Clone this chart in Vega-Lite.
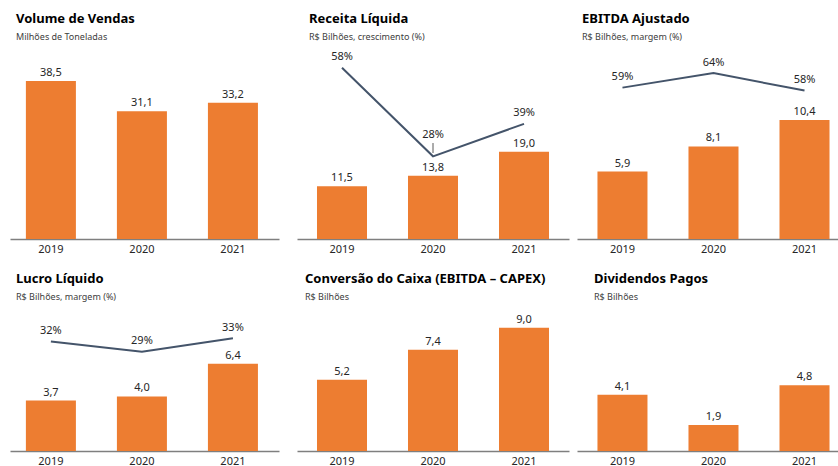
{
  "$schema": "https://vega.github.io/schema/vega-lite/v6.json",
  "padding": {"left": 10, "top": 13, "right": 0, "bottom": 0},
  "background": "white",
  "spacing": 260,
  "bounds": "flush",
  "vconcat": [
    {
      "spacing": 18,
      "bounds": "flush",
      "hconcat": [
        {
          "width": 269, "height": 194,
          "title": {"text": "Volume de Vendas", "subtitle": "Milhões de Toneladas", "dx": 6},
          "data": {"values": [
            {"ano": "2019", "valor": 38.5},
            {"ano": "2020", "valor": 31.1},
            {"ano": "2021", "valor": 33.2}
          ]},
          "encoding": {"x": {"field": "ano", "type": "nominal", "title": null, "scale": {"paddingInner": 0.4505, "paddingOuter": 0.203, "align": 0.43}}},
          "layer": [
            {"mark": {"type": "bar", "color": "#ED7D31"}, "encoding": {"y": {"field": "valor", "type": "quantitative", "scale": {"domain": [0, 47.26], "nice": false}, "axis": null}}},
            {"mark": {"type": "text", "dy": -8, "fontSize": 11, "color": "#262626"}, "encoding": {"y": {"field": "valor", "type": "quantitative", "scale": {"domain": [0, 47.26], "nice": false}, "axis": null}, "text": {"field": "valor", "type": "quantitative", "format": ".1f"}}}
          ]
        },
        {
          "spacing": 8,
          "bounds": "flush",
          "hconcat": [
            {
              "width": 272, "height": 194,
              "title": {"text": "Receita Líquida", "subtitle": "R$ Bilhões, crescimento (%)", "dx": 12},
              "data": {"values": [
                {"ano": "2019", "valor": 11.5, "pct": 0.58},
                {"ano": "2020", "valor": 13.8, "pct": 0.28},
                {"ano": "2021", "valor": 19.0, "pct": 0.39}
              ]},
              "encoding": {"x": {"field": "ano", "type": "nominal", "title": null, "scale": {"paddingInner": 0.4505, "paddingOuter": 0.2197, "align": 0.5}}},
              "layer": [
                {"mark": {"type": "bar", "color": "#ED7D31"}, "encoding": {"y": {"field": "valor", "type": "quantitative", "scale": {"domain": [0, 42.27], "nice": false}, "axis": null}}},
                {"mark": {"type": "text", "dy": -8, "fontSize": 11, "color": "#262626"}, "encoding": {"y": {"field": "valor", "type": "quantitative", "scale": {"domain": [0, 42.27], "nice": false}, "axis": null}, "text": {"field": "valor", "type": "quantitative", "format": ".1f"}}},
                {"mark": {"type": "line", "color": "#44546A", "strokeWidth": 2}, "encoding": {"y": {"field": "pct", "type": "quantitative", "scale": {"domain": [0, 0.657], "nice": false}, "axis": null}}},
                {"transform": [{"filter": "datum.ano != '2020'"}], "mark": {"type": "text", "dy": -10.5, "fontSize": 11, "color": "#262626"}, "encoding": {"y": {"field": "pct", "type": "quantitative", "scale": {"domain": [0, 0.657], "nice": false}, "axis": null}, "text": {"field": "pct", "type": "quantitative", "format": ".0%"}}},
                {"transform": [{"filter": "datum.ano == '2020'"}], "mark": {"type": "text", "dy": -21, "fontSize": 11, "color": "#262626"}, "encoding": {"y": {"field": "pct", "type": "quantitative", "scale": {"domain": [0, 0.657], "nice": false}, "axis": null}, "text": {"field": "pct", "type": "quantitative", "format": ".0%"}}},
                {"transform": [{"filter": "datum.ano == '2020'"}], "mark": {"type": "rule", "yOffset": -3.3, "y2Offset": -13.3, "color": "#595959", "strokeWidth": 1}, "encoding": {"y": {"field": "pct", "type": "quantitative", "scale": {"domain": [0, 0.657], "nice": false}, "axis": null}, "y2": {"field": "pct"}}}
              ],
              "resolve": {"scale": {"y": "independent"}}
            },
            {
              "width": 261, "height": 194,
              "title": {"text": "EBITDA Ajustado", "subtitle": "R$ Bilhões, margem (%)", "dx": 5},
              "data": {"values": [
                {"ano": "2019", "valor": 5.9, "pct": 0.59},
                {"ano": "2020", "valor": 8.1, "pct": 0.64},
                {"ano": "2021", "valor": 10.4, "pct": 0.58}
              ]},
              "encoding": {"x": {"field": "ano", "type": "nominal", "title": null, "scale": {"paddingInner": 0.4505, "paddingOuter": 0.159, "align": 0.707}}},
              "layer": [
                {"mark": {"type": "bar", "color": "#ED7D31"}, "encoding": {"y": {"field": "valor", "type": "quantitative", "scale": {"domain": [0, 16.97], "nice": false}, "axis": null}}},
                {"mark": {"type": "text", "dy": -8, "fontSize": 11, "color": "#262626"}, "encoding": {"y": {"field": "valor", "type": "quantitative", "scale": {"domain": [0, 16.97], "nice": false}, "axis": null}, "text": {"field": "valor", "type": "quantitative", "format": ".1f"}}},
                {"mark": {"type": "line", "color": "#44546A", "strokeWidth": 2}, "encoding": {"y": {"field": "pct", "type": "quantitative", "scale": {"domain": [0.068, 0.737], "nice": false, "zero": false}, "axis": null}}},
                {"mark": {"type": "text", "dy": -10.5, "fontSize": 11, "color": "#262626"}, "encoding": {"y": {"field": "pct", "type": "quantitative", "scale": {"domain": [0.068, 0.737], "nice": false, "zero": false}, "axis": null}, "text": {"field": "pct", "type": "quantitative", "format": ".0%"}}}
              ],
              "resolve": {"scale": {"y": "independent"}}
            }
          ]
        }
      ]
    },
    {
      "spacing": 18,
      "bounds": "flush",
      "hconcat": [
        {
          "width": 269, "height": 146,
          "title": {"text": "Lucro Líquido", "subtitle": "R$ Bilhões, margem (%)", "dx": 6},
          "data": {"values": [
            {"ano": "2019", "valor": 3.7, "pct": 0.32},
            {"ano": "2020", "valor": 4.0, "pct": 0.29},
            {"ano": "2021", "valor": 6.4, "pct": 0.33}
          ]},
          "encoding": {"x": {"field": "ano", "type": "nominal", "title": null, "scale": {"paddingInner": 0.4505, "paddingOuter": 0.203, "align": 0.43}}},
          "layer": [
            {"mark": {"type": "bar", "color": "#ED7D31"}, "encoding": {"y": {"field": "valor", "type": "quantitative", "scale": {"domain": [0, 10.7], "nice": false}, "axis": null}}},
            {"mark": {"type": "text", "dy": -8, "fontSize": 11, "color": "#262626"}, "encoding": {"y": {"field": "valor", "type": "quantitative", "scale": {"domain": [0, 10.7], "nice": false}, "axis": null}, "text": {"field": "valor", "type": "quantitative", "format": ".1f"}}},
            {"mark": {"type": "line", "color": "#44546A", "strokeWidth": 2}, "encoding": {"y": {"field": "pct", "type": "quantitative", "scale": {"domain": [0, 0.427], "nice": false}, "axis": null}}},
            {"mark": {"type": "text", "dy": -10.5, "fontSize": 11, "color": "#262626"}, "encoding": {"y": {"field": "pct", "type": "quantitative", "scale": {"domain": [0, 0.427], "nice": false}, "axis": null}, "text": {"field": "pct", "type": "quantitative", "format": ".0%"}}}
          ],
          "resolve": {"scale": {"y": "independent"}}
        },
        {
          "spacing": 8,
          "bounds": "flush",
          "hconcat": [
            {
              "width": 272, "height": 146,
              "title": {"text": "Conversão do Caixa (EBITDA – CAPEX)", "subtitle": "R$ Bilhões", "dx": 8},
              "data": {"values": [
                {"ano": "2019", "valor": 5.2},
                {"ano": "2020", "valor": 7.4},
                {"ano": "2021", "valor": 9.0}
              ]},
              "encoding": {"x": {"field": "ano", "type": "nominal", "title": null, "scale": {"paddingInner": 0.4505, "paddingOuter": 0.2197, "align": 0.5}}},
              "layer": [
                {"mark": {"type": "bar", "color": "#ED7D31"}, "encoding": {"y": {"field": "valor", "type": "quantitative", "scale": {"domain": [0, 10.67], "nice": false}, "axis": null}}},
                {"mark": {"type": "text", "dy": -8, "fontSize": 11, "color": "#262626"}, "encoding": {"y": {"field": "valor", "type": "quantitative", "scale": {"domain": [0, 10.67], "nice": false}, "axis": null}, "text": {"field": "valor", "type": "quantitative", "format": ".1f"}}}
              ]
            },
            {
              "width": 261, "height": 146,
              "title": {"text": "Dividendos Pagos", "subtitle": "R$ Bilhões", "dx": 17},
              "data": {"values": [
                {"ano": "2019", "valor": 4.1},
                {"ano": "2020", "valor": 1.9},
                {"ano": "2021", "valor": 4.8}
              ]},
              "encoding": {"x": {"field": "ano", "type": "nominal", "title": null, "scale": {"paddingInner": 0.4505, "paddingOuter": 0.159, "align": 0.707}}},
              "layer": [
                {"mark": {"type": "bar", "color": "#ED7D31"}, "encoding": {"y": {"field": "valor", "type": "quantitative", "scale": {"domain": [0, 10.66], "nice": false}, "axis": null}}},
                {"mark": {"type": "text", "dy": -8, "fontSize": 11, "color": "#262626"}, "encoding": {"y": {"field": "valor", "type": "quantitative", "scale": {"domain": [0, 10.66], "nice": false}, "axis": null}, "text": {"field": "valor", "type": "quantitative", "format": ".1f"}}}
              ]
            }
          ]
        }
      ]
    }
  ],
  "config": {
    "view": {"stroke": null},
    "font": "Noto Sans",
    "locale": {"number": {"decimal": ",", "thousands": ".", "grouping": [3], "currency": ["R$", ""]}},
    "axisX": {"domainColor": "#7f7f7f", "domainWidth": 1.5, "ticks": false, "grid": false, "labelAngle": 0, "labelFontSize": 11, "labelColor": "#262626", "labelPadding": 4, "labelFont": "Noto Sans"},
    "title": {"font": "Noto Sans", "fontSize": 13, "fontWeight": "bold", "color": "#000000", "anchor": "start", "offset": 3.5, "subtitleFont": "Noto Sans", "subtitleFontSize": 9, "subtitleColor": "#404040", "subtitlePadding": 6.5}
  }
}
